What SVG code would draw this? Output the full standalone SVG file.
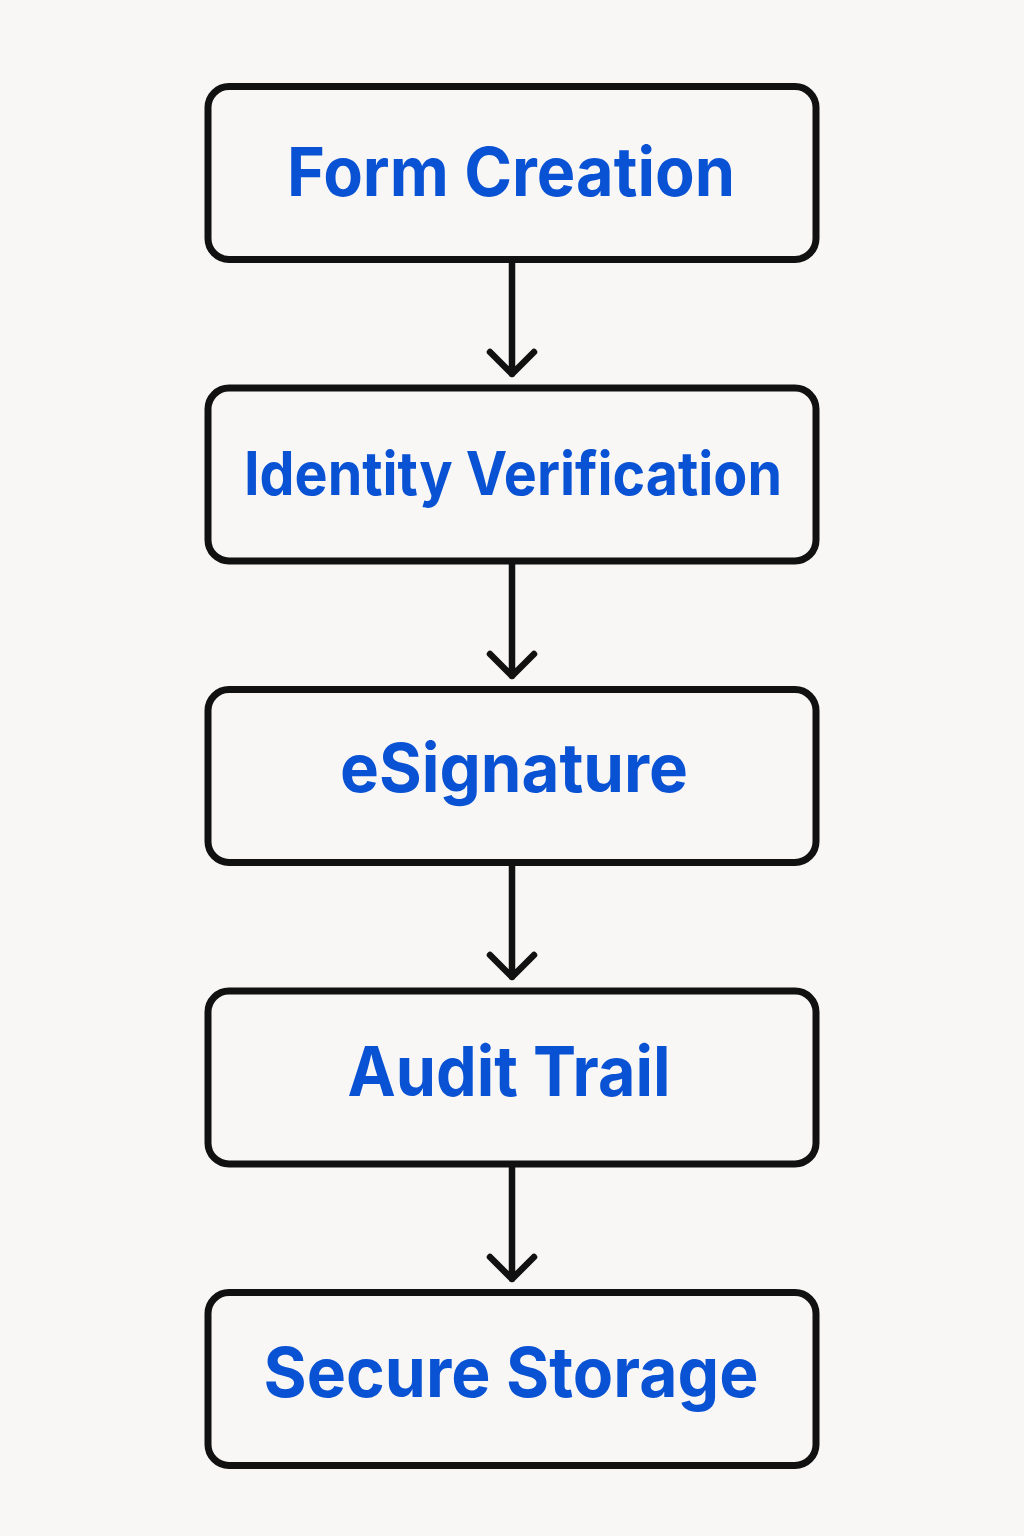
<svg xmlns="http://www.w3.org/2000/svg" width="1024" height="1536" viewBox="0 0 1024 1536">
<style>
.box{fill:#f8f7f5;stroke:#111;stroke-width:7}
.lbl{font-family:Inter,"Liberation Sans",sans-serif;font-weight:700;fill:#0a52d4;text-anchor:middle}
.con{fill:none;stroke:#111;stroke-width:6.5;stroke-linecap:round;stroke-linejoin:round}
</style>
<rect width="1024" height="1536" fill="#f8f7f5"/>
<g id="connectors">
<path class="con" d="M512 262V374M490 352L512 374L534 352"/>
<path class="con" d="M512 563V676M490 654L512 676L534 654"/>
<path class="con" d="M512 865V977M490 955L512 977L534 955"/>
<path class="con" d="M512 1166V1279M490 1257L512 1279L534 1257"/>
</g>
<g id="n1"><rect class="box" x="208" y="86.5" width="608" height="173" rx="21"/><text class="lbl" x="511" y="196" font-size="68" textLength="448" lengthAdjust="spacingAndGlyphs">Form Creation</text></g>
<g id="n2"><rect class="box" x="208" y="388" width="608" height="173" rx="21"/><text class="lbl" x="513" y="495" font-size="60" textLength="538" lengthAdjust="spacingAndGlyphs">Identity Verification</text></g>
<g id="n3"><rect class="box" x="208" y="689.5" width="608" height="173" rx="21"/><text class="lbl" x="514" y="792" font-size="67" textLength="348" lengthAdjust="spacingAndGlyphs">eSignature</text></g>
<g id="n4"><rect class="box" x="208" y="991" width="608" height="173" rx="21"/><text class="lbl" x="509" y="1096" font-size="69" textLength="323" lengthAdjust="spacingAndGlyphs">Audit Trail</text></g>
<g id="n5"><rect class="box" x="208" y="1292.5" width="608" height="173" rx="21"/><text class="lbl" x="511" y="1397" font-size="69" textLength="495" lengthAdjust="spacingAndGlyphs">Secure Storage</text></g>
</svg>
